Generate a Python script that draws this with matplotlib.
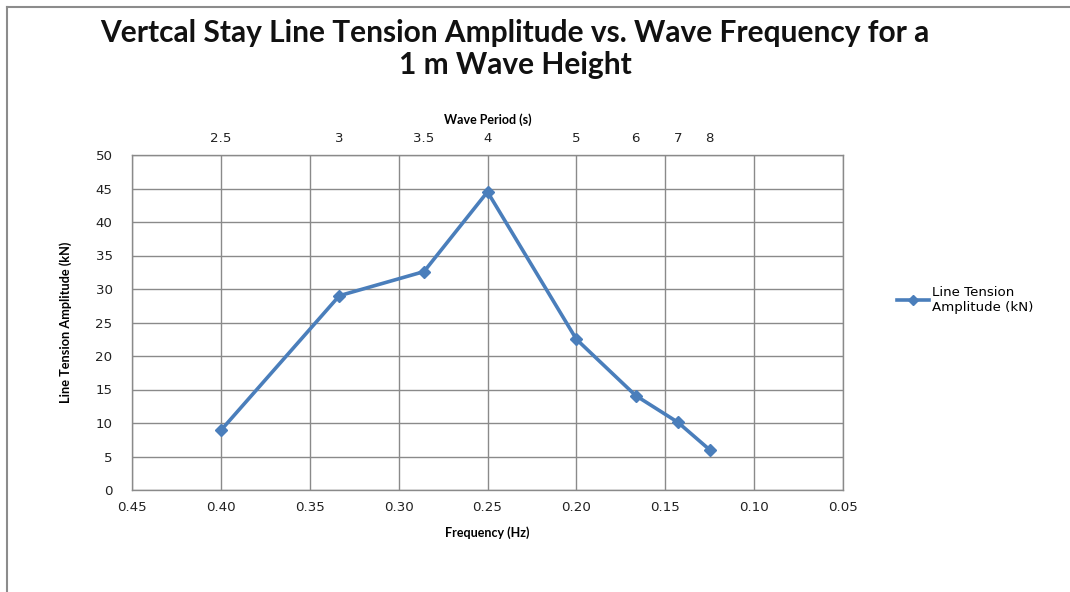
import matplotlib
matplotlib.use("Agg")
import matplotlib.pyplot as plt
from matplotlib.lines import Line2D

plt.rcParams["font.family"] = ["DejaVu Sans"]

# Stay line response data
frequency_hz = [0.400, 1 / 3, 1 / 3.5, 0.250, 0.200, 1 / 6, 1 / 7, 0.125]
tension_kn = [8.9, 29.0, 32.6, 44.5, 22.5, 14.1, 10.1, 6.0]

# Wave period labels on the top axis
period_labels = ["2.5", "3", "3.5", "4", "5", "6", "7", "8"]
period_values = [2.5, 3, 3.5, 4, 5, 6, 7, 8]

freq_ticks = [0.45, 0.40, 0.35, 0.30, 0.25, 0.20, 0.15, 0.10, 0.05]
tension_ticks = [0, 5, 10, 15, 20, 25, 30, 35, 40, 45, 50]

title_text = "Vertcal Stay Line Tension Amplitude vs. Wave Frequency for a\n1 m Wave Height"
series_name = "Line Tension\nAmplitude (kN)"

W, H = 1070, 592
fig = plt.figure(figsize=(W / 100, H / 100), dpi=100)
fig.patch.set_facecolor("white")

# outer chart frame (top and left edges)
fig.add_artist(Line2D([7 / W, 7 / W], [0, 1 - 7 / H], color="#8c8c8c", lw=1.5,
                      transform=fig.transFigure))
fig.add_artist(Line2D([7 / W, 1], [1 - 7 / H, 1 - 7 / H], color="#8c8c8c", lw=1.5,
                      transform=fig.transFigure))

ax = fig.add_axes([132 / W, 1 - 490 / H, (843 - 132) / W, (490 - 155) / H])
line_color = "#4A7EBB"
grid_color = "#8a8a8a"
tick_size = 9.6

ax.plot(frequency_hz, tension_kn, color=line_color, lw=2.6, marker="D",
        markersize=6.5, markerfacecolor=line_color, markeredgecolor=line_color,
        zorder=3)

ax.set_xlim(0.45, 0.05)
ax.set_ylim(0, 50)
ax.set_xticks(freq_ticks)
ax.set_xticklabels([f"{v:.2f}" for v in freq_ticks])
ax.set_yticks(tension_ticks)
ax.grid(True, color=grid_color, lw=1.0)
ax.set_axisbelow(True)
for s in ax.spines.values():
    s.set_color(grid_color)
    s.set_linewidth(1.0)
ax.tick_params(axis="both", length=0, labelsize=tick_size, colors="#222222")
ax.tick_params(axis="x", pad=8)
ax.tick_params(axis="y", pad=14)

ax.set_xlabel("Frequency (Hz)", fontsize=9, fontweight="bold", family="Lato",
              labelpad=9)
ax.set_ylabel("Line Tension Amplitude (kN)", fontsize=9.2, fontweight="bold",
              family="Lato", labelpad=17)

# top axis: wave period at f = 1/T
top = ax.twiny()
top.set_xlim(ax.get_xlim())
top.set_xticks([1 / p for p in period_values])
top.set_xticklabels(period_labels)
top.tick_params(axis="x", length=0, labelsize=tick_size, colors="#222222", pad=7)
for s in top.spines.values():
    s.set_visible(False)
top.set_xlabel("Wave Period (s)", fontsize=9, fontweight="bold", family="Lato",
               labelpad=6)

fig.text(515 / W, 1 - 49 / H, title_text, ha="center", va="center",
         fontsize=21.5, fontweight="bold", family="Lato", linespacing=1.2,
         color="#111111")

handle = Line2D([], [], color=line_color, lw=2.6, marker="D", markersize=5.5)
fig.legend([handle], [series_name], loc="center left",
           bbox_to_anchor=(885 / W, 1 - 300 / H), frameon=False, fontsize=tick_size,
           handlelength=2.4, handletextpad=0.2)

fig.savefig("out.png", dpi=100, facecolor="white")
